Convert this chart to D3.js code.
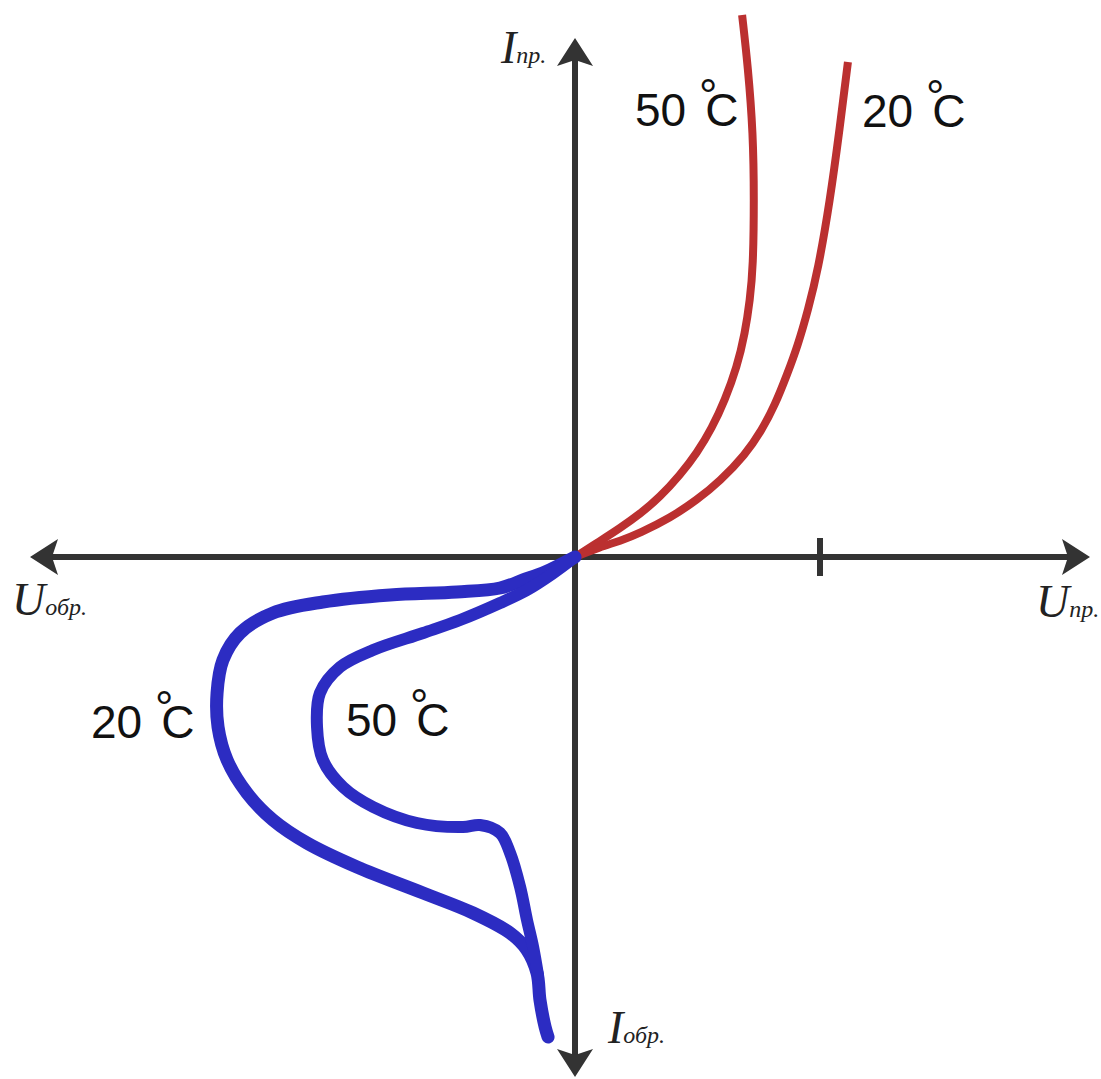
<!DOCTYPE html>
<html lang="ru">
<head>
  <meta charset="UTF-8">
  <title>ВАХ диода</title>
  <style>
    body { margin: 0; background: #fff; }
  </style>
</head>
<body>
  <svg id="svg" width="1101" height="1079"></svg>

  <script src="https://d3js.org/d3.v7.min.js"></script>
  <script>
    // ------ DATA ------------------------
    // axis limits (U in tick units, I in arbitrary units)
    const uLimits = [-2.2245, 2.102]
    const iLimits = [-5.2, 5.19]
    const uTicks = [1]

    // forward branch [U, I]
    const forward50 = [
      [0, 0], [0.102, 0.16], [0.184, 0.29], [0.265, 0.43], [0.347, 0.60],
      [0.429, 0.82], [0.498, 1.04], [0.559, 1.29], [0.612, 1.57], [0.661, 1.90],
      [0.694, 2.24], [0.714, 2.57], [0.727, 2.90], [0.731, 3.57], [0.727, 4.24],
      [0.706, 4.90], [0.682, 5.42]
    ]
    const forward20 = [
      [0, 0], [0.102, 0.10], [0.184, 0.16], [0.265, 0.24], [0.388, 0.39],
      [0.498, 0.57], [0.592, 0.76], [0.694, 1.02], [0.763, 1.27], [0.816, 1.52],
      [0.865, 1.82], [0.910, 2.12], [0.951, 2.47], [0.992, 2.87], [1.041, 3.57],
      [1.078, 4.24], [1.114, 4.95]
    ]
    // reverse branch [U, I]
    const reverse20 = [
      [0, 0], [-0.122, -0.15], [-0.212, -0.23], [-0.306, -0.31], [-0.482, -0.35],
      [-0.755, -0.38], [-1.029, -0.45], [-1.233, -0.56], [-1.367, -0.76], [-1.437, -1.03],
      [-1.461, -1.36], [-1.457, -1.70], [-1.420, -2.03], [-1.339, -2.36], [-1.233, -2.63],
      [-1.094, -2.86], [-0.890, -3.10], [-0.620, -3.36], [-0.416, -3.56], [-0.265, -3.76],
      [-0.196, -3.93], [-0.155, -4.16], [-0.143, -4.43], [-0.122, -4.70], [-0.110, -4.80]
    ]
    const reverse50 = [
      [0, 0], [-0.094, -0.17], [-0.196, -0.33], [-0.306, -0.46], [-0.469, -0.63],
      [-0.620, -0.76], [-0.824, -0.93], [-0.959, -1.10], [-1.041, -1.36], [-1.053, -1.70],
      [-1.029, -2.03], [-0.947, -2.30], [-0.824, -2.50], [-0.645, -2.66], [-0.457, -2.70],
      [-0.388, -2.68], [-0.306, -2.76], [-0.265, -2.96], [-0.224, -3.30], [-0.196, -3.63],
      [-0.171, -3.90], [-0.151, -4.18]
    ]

    const tempLabels = [
      { text: '50', x: 635, y: 126 },
      { text: '20', x: 862, y: 127 },
      { text: '20', x: 91, y: 738 },
      { text: '50', x: 346, y: 736 }
    ]

    // ------ SCALES ------------------------
    const x = d3.scaleLinear().domain(uLimits).range([30, 1090])
    const y = d3.scaleLinear().domain(iLimits).range([1077, 38])

    const svg = d3.select('#svg')
    const axisColor = '#333333'

    // ------ AXES ------------------------
    const arrow = 'M0,0 L-28,-18 L-22,0 L-28,18 Z' // points to +x

    svg.append('line')
      .attr('x1', x(uLimits[0]) + 22).attr('x2', x(uLimits[1]) - 22)
      .attr('y1', y(0)).attr('y2', y(0))
      .attr('stroke', axisColor).attr('stroke-width', 6)
    svg.append('line')
      .attr('x1', x(0)).attr('x2', x(0))
      .attr('y1', y(iLimits[0]) - 22).attr('y2', y(iLimits[1]) + 22)
      .attr('stroke', axisColor).attr('stroke-width', 6)

    const heads = [
      { px: x(uLimits[1]), py: y(0), rot: 0 },
      { px: x(uLimits[0]), py: y(0), rot: 180 },
      { px: x(0), py: y(iLimits[1]), rot: -90 },
      { px: x(0), py: y(iLimits[0]), rot: 90 }
    ]
    svg.selectAll('path.head')
      .data(heads)
      .enter()
      .append('path')
      .attr('class', 'head')
      .attr('d', arrow)
      .attr('fill', axisColor)
      .attr('transform', d => `translate(${d.px},${d.py}) rotate(${d.rot})`)

    svg.selectAll('line.tick')
      .data(uTicks)
      .enter()
      .append('line')
      .attr('class', 'tick')
      .attr('x1', d => x(d)).attr('x2', d => x(d))
      .attr('y1', y(0) - 19).attr('y2', y(0) + 19)
      .attr('stroke', axisColor).attr('stroke-width', 6)

    // axis labels
    const axisLabels = [
      { main: 'I', sub: 'пр.', x: 501, y: 63 },
      { main: 'U', sub: 'обр.', x: 12, y: 615 },
      { main: 'U', sub: 'пр.', x: 1036, y: 617 },
      { main: 'I', sub: 'обр.', x: 608, y: 1043 }
    ]
    const al = svg.selectAll('text.axlabel')
      .data(axisLabels)
      .enter()
      .append('text')
      .attr('class', 'axlabel')
      .attr('x', d => d.x)
      .attr('y', d => d.y)
      .style('font-family', '"Liberation Serif", "DejaVu Serif", serif')
      .style('font-style', 'italic')
      .attr('fill', '#222')
    al.append('tspan').style('font-size', '46px').text(d => d.main)
    al.append('tspan').style('font-size', '24px').text(d => d.sub)

    // ------ CURVES ------------------------
    // smooth spline for the forward branch, through-point spline for the reverse one
    const smoothLine = d3.line()
      .x(d => x(d[0]))
      .y(d => y(d[1]))
      .curve(d3.curveBasis)
    const line = d3.line()
      .x(d => x(d[0]))
      .y(d => y(d[1]))
      .curve(d3.curveCatmullRom.alpha(0.5))

    const red = '#bb3030'
    const blue = '#2c2cc2'

    svg.append('path').datum(forward50)
      .attr('d', smoothLine).attr('fill', 'none')
      .attr('stroke', red).attr('stroke-width', 8).attr('stroke-linejoin', 'round')
    svg.append('path').datum(forward20)
      .attr('d', smoothLine).attr('fill', 'none')
      .attr('stroke', red).attr('stroke-width', 8).attr('stroke-linejoin', 'round')

    svg.append('path').datum(reverse20)
      .attr('d', line).attr('fill', 'none')
      .attr('stroke', blue).attr('stroke-width', 13)
      .attr('stroke-linecap', 'round').attr('stroke-linejoin', 'round')
    svg.append('path').datum(reverse50)
      .attr('d', line).attr('fill', 'none')
      .attr('stroke', blue).attr('stroke-width', 12)
      .attr('stroke-linecap', 'round').attr('stroke-linejoin', 'round')

    // ------ TEMPERATURE LABELS ------------------------
    const tl = svg.selectAll('text.temp')
      .data(tempLabels)
      .enter()
      .append('text')
      .attr('class', 'temp')
      .attr('x', d => d.x)
      .attr('y', d => d.y)
      .style('font-family', '"Liberation Sans", Arial, sans-serif')
      .style('font-size', '46px')
      .attr('fill', '#111')
    tl.append('tspan').text(d => d.text + ' ')
    tl.append('tspan').attr('dy', -14).text('°')
    tl.append('tspan').attr('dy', 14).attr('dx', -12).text('C')
  </script>
</body>
</html>
